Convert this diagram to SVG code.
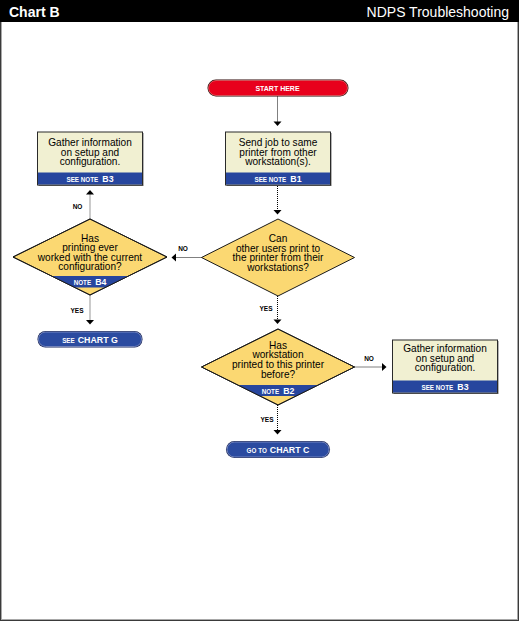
<svg xmlns="http://www.w3.org/2000/svg" width="519" height="621" viewBox="0 0 519 621">
<style>
.t{font-family:"Liberation Sans",Arial,sans-serif;font-size:10.1px;fill:#000;text-anchor:middle}
.h{font-family:"Liberation Sans",Arial,sans-serif;font-size:14px;fill:#fff}
.s{font-family:"Liberation Sans",Arial,sans-serif;font-weight:bold;fill:#fff}
.sm{font-size:6.3px}
.bg{font-size:8.8px}
.lb{font-family:"Liberation Sans",Arial,sans-serif;font-weight:bold;font-size:6.5px;fill:#000;text-anchor:middle}
.box{fill:#f1f0d2;stroke:#2a2a2a;stroke-width:1}
.sh{fill:#6a6a6a}
.band{fill:#27469e}
.dia{fill:#fbd872;stroke:#1a1a1a;stroke-width:1}
.dot{stroke:#000;stroke-width:1;stroke-dasharray:1 1;fill:none}
.gry{stroke:#a8a8a8;stroke-width:1.2;fill:none}
.ah{fill:#000}
</style>
<defs>
<clipPath id="cL"><polygon points="90,219 167,257 90,295 13,257"/></clipPath>
<clipPath id="c2"><polygon points="278,329 354.5,367 278,405 201.5,367"/></clipPath>
</defs>
<rect x="0" y="0" width="519" height="621" fill="#fff"/>
<rect x="0.5" y="0.5" width="518" height="620" fill="none" stroke="#3a3a3a" stroke-width="1"/>
<rect x="1.5" y="1.5" width="516" height="618" fill="none" stroke="#a8a8a8" stroke-width="1"/>
<g id="header">
<rect x="0" y="0" width="519" height="22" fill="#000"/>
<text class="h" x="9" y="16.5" font-weight="bold">Chart B</text>
<text class="h" x="509" y="16.5" text-anchor="end">NDPS Troubleshooting</text>
</g>

<g id="connectors">
<line class="dot" x1="277.5" y1="96.5" x2="277.5" y2="122"/>
<polygon class="ah" points="273.5,121.5 281.5,121.5 277.5,126"/>
<line class="dot" x1="277.5" y1="186" x2="277.5" y2="210"/>
<polygon class="ah" points="273.5,210 281.5,210 277.5,214.5"/>
<line class="dot" x1="277.5" y1="296" x2="277.5" y2="320"/>
<polygon class="ah" points="273.5,319.5 281.5,319.5 277.5,324"/>
<text class="lb" x="266" y="311">YES</text>
<line class="dot" x1="277.5" y1="405" x2="277.5" y2="430.5"/>
<polygon class="ah" points="273.5,430 281.5,430 277.5,434.5"/>
<text class="lb" x="267" y="422">YES</text>
<line class="dot" x1="201.5" y1="257.5" x2="176" y2="257.5"/>
<polygon class="ah" points="176,253.5 176,261.5 171.5,257.5"/>
<text class="lb" x="183" y="251">NO</text>
<line class="dot" x1="354.5" y1="367" x2="382.5" y2="367"/>
<polygon class="ah" points="382,363 382,371 386.5,367"/>
<text class="lb" x="369" y="361">NO</text>
<line class="gry" x1="90" y1="219" x2="90" y2="194"/>
<polygon class="ah" points="86,194.5 94,194.5 90,190"/>
<text class="lb" x="77.5" y="209">NO</text>
<line class="gry" x1="90" y1="295" x2="90" y2="320"/>
<polygon class="ah" points="86,320 94,320 90,324.5"/>
<text class="lb" x="77" y="313">YES</text>
</g>

<g id="start">
<rect x="207.5" y="79.5" width="141" height="17" rx="8.5" fill="#2a0505"/>
<rect x="208.5" y="80.5" width="139" height="15" rx="7.5" fill="#e8001c" stroke="#ff8a8a" stroke-width="0.6"/>
<text class="s" x="277.5" y="90.5" text-anchor="middle" font-size="7px">START HERE</text>
</g>

<g id="b1">
<rect class="sh" x="226.5" y="133" width="105" height="53"/>
<rect class="box" x="225.5" y="132" width="105" height="53"/>
<rect class="band" x="226" y="172.5" width="104" height="12"/>
<text class="t" x="278" y="146">Send job to same</text>
<text class="t" x="278" y="155.6">printer from other</text>
<text class="t" x="278" y="165.2">workstation(s).</text>
<text class="s" x="278" y="181.5" text-anchor="middle"><tspan class="sm">SEE NOTE</tspan><tspan class="bg" dx="4">B1</tspan></text>
</g>

<g id="b3left">
<rect class="sh" x="38.5" y="133" width="105" height="53"/>
<rect class="box" x="37.5" y="132" width="105" height="53"/>
<rect class="band" x="38" y="172.5" width="104" height="12"/>
<text class="t" x="90" y="146">Gather information</text>
<text class="t" x="90" y="155.6">on setup and</text>
<text class="t" x="90" y="165.2">configuration.</text>
<text class="s" x="90" y="181.5" text-anchor="middle"><tspan class="sm">SEE NOTE</tspan><tspan class="bg" dx="4">B3</tspan></text>
</g>

<g id="d1">
<polygon class="dia" points="278,219 354.5,257.5 278,296 201.5,257.5"/>
<text class="t" x="278" y="242.2">Can</text>
<text class="t" x="278" y="251.8">other users print to</text>
<text class="t" x="278" y="261.3">the printer from their</text>
<text class="t" x="278" y="270.8">workstations?</text>
</g>

<g id="dleft">
<polygon class="dia" points="90,219 167,257 90,295 13,257"/>
<rect class="band" x="0" y="276" width="180" height="11.5" clip-path="url(#cL)"/>
<polygon points="90,219 167,257 90,295 13,257" fill="none" stroke="#1a1a1a" stroke-width="1"/>
<text class="t" x="90" y="241.6">Has</text>
<text class="t" x="90" y="251.1">printing ever</text>
<text class="t" x="90" y="260.6">worked with the current</text>
<text class="t" x="90" y="270.1">configuration?</text>
<text class="s" x="90" y="285" text-anchor="middle"><tspan class="sm">NOTE</tspan><tspan class="bg" dx="4">B4</tspan></text>
</g>

<g id="seeg">
<rect x="37.5" y="331" width="105" height="16.5" rx="8" fill="#17255a"/>
<rect x="38.5" y="332" width="103" height="14.5" rx="7" fill="#2b4ba0" stroke="#a9b6e0" stroke-width="0.6"/>
<text class="s" x="90" y="343" text-anchor="middle"><tspan class="sm">SEE</tspan><tspan class="bg" dx="3">CHART G</tspan></text>
</g>

<g id="d2">
<polygon class="dia" points="278,329 354.5,367 278,405 201.5,367"/>
<rect class="band" x="190" y="385" width="180" height="11" clip-path="url(#c2)"/>
<polygon points="278,329 354.5,367 278,405 201.5,367" fill="none" stroke="#1a1a1a" stroke-width="1"/>
<text class="t" x="278" y="348.5">Has</text>
<text class="t" x="278" y="358.2">workstation</text>
<text class="t" x="278" y="368">printed to this printer</text>
<text class="t" x="278" y="377.6">before?</text>
<text class="s" x="278" y="394" text-anchor="middle"><tspan class="sm">NOTE</tspan><tspan class="bg" dx="4">B2</tspan></text>
</g>

<g id="b3right">
<rect class="sh" x="393.5" y="341" width="105" height="53"/>
<rect class="box" x="392.5" y="340" width="105" height="53"/>
<rect class="band" x="393" y="380.5" width="104" height="12"/>
<text class="t" x="445" y="352.3">Gather information</text>
<text class="t" x="445" y="361.8">on setup and</text>
<text class="t" x="445" y="371.3">configuration.</text>
<text class="s" x="445" y="389.5" text-anchor="middle"><tspan class="sm">SEE NOTE</tspan><tspan class="bg" dx="4">B3</tspan></text>
</g>

<g id="goc">
<rect x="226" y="441" width="104" height="17" rx="8.5" fill="#17255a"/>
<rect x="227" y="442" width="102" height="15" rx="7.5" fill="#2b4ba0" stroke="#a9b6e0" stroke-width="0.6"/>
<text class="s" x="278" y="453" text-anchor="middle"><tspan class="sm">GO TO</tspan><tspan class="bg" dx="3">CHART C</tspan></text>
</g>
</svg>
